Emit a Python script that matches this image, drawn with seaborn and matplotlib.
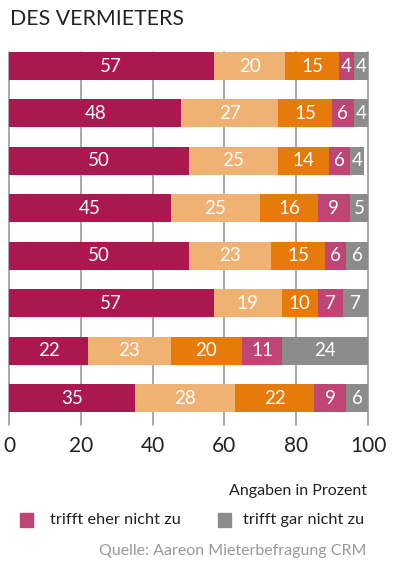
import numpy as np
import pandas as pd
import matplotlib
matplotlib.use("Agg")
import matplotlib.pyplot as plt
import seaborn as sns

sns.set_theme(style="white")
plt.rcParams['font.family'] = ['Lato', 'DejaVu Sans']

rows = ["r1", "r2", "r3", "r4", "r5", "r6", "r7", "r8"]
trifft_voll = [57, 48, 50, 45, 50, 57, 22, 35]
trifft_eher = [20, 27, 25, 25, 23, 19, 23, 28]
teils = [15, 15, 14, 16, 15, 10, 20, 22]
eher_nicht = [4, 6, 6, 9, 6, 7, 11, 9]
gar_nicht = [4, 4, 4, 5, 6, 7, 24, 6]

series = [trifft_voll, trifft_eher, teils, eher_nicht, gar_nicht]
colors = ["#AB174F", "#F0B273", "#E67A0B", "#BE4574", "#8C8C8C"]

df = pd.DataFrame({"row": rows})
cum = np.cumsum(np.array(series), axis=0)

fig = plt.figure(figsize=(4.0, 5.66), dpi=100)
ax = fig.add_axes([0.0225, 0.249, 0.8975, 0.659])

# stacked bars: draw cumulative totals from the outside in
for i in range(len(series) - 1, -1, -1):
    df["val"] = cum[i]
    sns.barplot(data=df, x="val", y="row", color=colors[i], width=0.59,
                saturation=1, edgecolor="none", ax=ax, zorder=3)

for j in range(len(rows)):
    left = 0
    for s in series:
        v = s[j]
        ax.text(left + v / 2, j, str(v), ha="center", va="center",
                color="white", fontsize=13.5, zorder=5)
        left += v

ax.set_xlim(0, 100)
ax.set_ylim(7.57, -0.295)
ax.set_xticks([0, 20, 40, 60, 80, 100])
ax.set_xlabel("")
ax.set_ylabel("")
ax.set_yticks([])
ax.grid(axis="x", color="#9a9a9a", linewidth=1.2, zorder=0)
ax.grid(axis="y", visible=False)
for line in ax.get_xgridlines():
    line.set_clip_on(False)
for sp in ax.spines.values():
    sp.set_visible(False)
ax.tick_params(axis="x", length=0, pad=8, labelsize=15, colors="#222222")

fig.text(0.025, 0.967, "DES VERMIETERS", fontsize=15.3, color="#222222",
         ha="left", va="center")
fig.text(0.917, 0.133, "Angaben in Prozent", fontsize=11.5, color="#222222",
         ha="right", va="center")

fig.patches.append(plt.Rectangle((20 / 400, 1 - 527 / 566), 13 / 400, 14 / 566,
                                 transform=fig.transFigure, color="#BE4574"))
fig.text(50 / 400, 1 - 520 / 566, "trifft eher nicht zu", fontsize=11.8,
         color="#222222", ha="left", va="center")
fig.patches.append(plt.Rectangle((218 / 400, 1 - 527 / 566), 13 / 400, 14 / 566,
                                 transform=fig.transFigure, color="#8C8C8C"))
fig.text(243 / 400, 1 - 520 / 566, "trifft gar nicht zu", fontsize=11.8,
         color="#222222", ha="left", va="center")
fig.text(0.917, 1 - 551 / 566, "Quelle: Aareon Mieterbefragung CRM", fontsize=11.5,
         color="#999999", ha="right", va="center")

fig.savefig("out.png", dpi=100)
